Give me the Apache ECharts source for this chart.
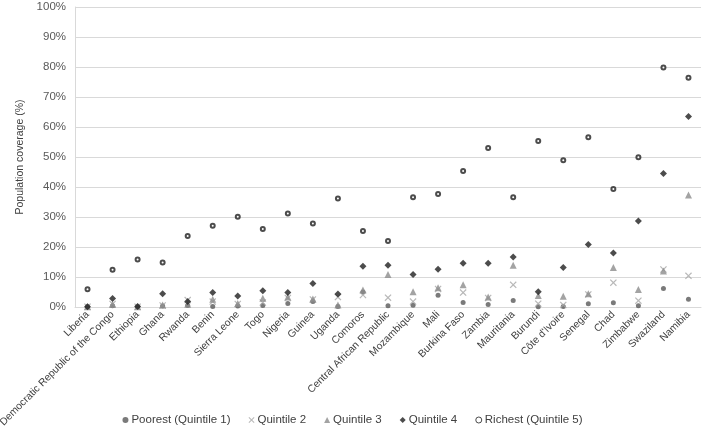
<!DOCTYPE html>
<html><head><meta charset="utf-8">
<script src="https://cdn.jsdelivr.net/npm/echarts@6/dist/echarts.min.js"></script>
<style>html,body{margin:0;padding:0;background:#fff}#c{width:705px;height:436px}</style>
</head><body><div id="c"></div>
<script>
const categories = ["Liberia","Democratic Republic of the Congo","Ethiopia","Ghana","Rwanda","Benin","Sierra Leone","Togo","Nigeria","Guinea","Uganda","Comoros","Central African Republic","Mozambique","Mali","Burkina Faso","Zambia","Mauritania","Burundi","Côte d'Ivoire","Senegal","Chad","Zimbabwe","Swaziland","Namibia"];
const poorest = [0.1,0.4,0.1,0.3,0.5,0.2,0.3,0.5,1.2,1.8,0.2,5.0,0.4,0.6,3.9,1.5,0.8,2.2,0.1,0.2,1.1,1.4,0.4,6.2,2.6];
const quintile2 = [0.1,1.0,0.1,0.5,2.3,1.8,1.0,1.5,3.0,2.5,3.3,4.0,3.1,1.8,6.0,4.8,3.0,7.4,1.1,0.7,4.2,8.1,2.1,12.5,10.4];
const quintile3 = [0.1,0.8,0.1,0.7,0.9,2.6,1.2,2.9,3.3,2.7,0.7,5.7,10.8,5.1,6.4,7.4,3.3,13.9,3.8,3.6,4.4,13.2,5.8,12.0,37.3];
const quintile4 = [0.1,2.8,0.2,4.4,1.8,4.8,3.7,5.4,4.8,7.8,4.3,13.6,13.9,10.8,12.6,14.6,14.6,16.7,5.1,13.2,20.8,18.0,28.7,44.5,63.5];
const richest = [5.9,12.4,15.8,14.8,23.7,27.1,30.1,26.0,31.2,27.8,36.2,25.3,22.0,36.6,37.7,45.3,53.0,36.6,55.3,48.9,56.6,39.3,49.9,79.8,76.4];
const yTicks = [0,10,20,30,40,50,60,70,80,90,100];

const xPath = 'path://M0,1.2L1.2,0L5,3.8L8.8,0L10,1.2L6.2,5L10,8.8L8.8,10L5,6.2L1.2,10L0,8.8L3.8,5Z';
const font = '"Liberation Sans", Arial, sans-serif';
const chart = echarts.init(document.getElementById('c'), null, {renderer:'canvas'});
chart.setOption({
  animation:false,
  backgroundColor:'#fff',
  textStyle:{fontFamily:font},
  grid:{left:75,right:4,top:7,bottom:129,containLabel:false,outerBoundsMode:'none'},
  legend:{
    bottom:5, left:'center', itemGap:18, itemWidth:6, itemHeight:6,
    textStyle:{color:'#404040',fontSize:11.5,fontFamily:font, padding:[0,0,0,-2]},
    data:[
      {name:'Poorest (Quintile 1)', icon:'circle'},
      {name:'Quintile 2', icon:xPath},
      {name:'Quintile 3', icon:'triangle'},
      {name:'Quintile 4', icon:'diamond'},
      {name:'Richest (Quintile 5)', icon:'circle', itemStyle:{color:'#ffffff', borderColor:'#1f1f1f', borderWidth:1}}
    ]
  },
  xAxis:{
    type:'category', data:categories, boundaryGap:true,
    axisLine:{lineStyle:{color:'#d9d9d9'}}, axisTick:{show:false},
    axisLabel:{rotate:45, interval:0, color:'#404040', fontSize:10.3, fontFamily:font, margin:6}
  },
  yAxis:{
    type:'value', min:0, max:100, interval:10,
    name:'Population coverage (%)', nameLocation:'middle', nameGap:48,
    nameTextStyle:{color:'#404040',fontSize:10.5,fontFamily:font},
    axisLine:{show:true,lineStyle:{color:'#d9d9d9'}}, axisTick:{show:false},
    axisLabel:{formatter:v=>v+'%', color:'#595959', fontSize:11.5, fontFamily:font, margin:9},
    splitLine:{lineStyle:{color:'#d9d9d9'}}
  },
  series:[
    {name:'Poorest (Quintile 1)', type:'scatter', data:poorest, symbol:'circle', symbolSize:5, itemStyle:{color:'#595959'}},
    {name:'Quintile 2', type:'scatter', data:quintile2, symbol:xPath, symbolSize:7, itemStyle:{color:'#a6a6a6'}},
    {name:'Quintile 3', type:'scatter', data:quintile3, symbol:'triangle', symbolSize:7, itemStyle:{color:'#8c8c8c'}},
    {name:'Quintile 4', type:'scatter', data:quintile4, symbol:'diamond', symbolSize:7, itemStyle:{color:'#1f1f1f'}},
    {name:'Richest (Quintile 5)', type:'scatter', data:richest, symbol:'emptyCircle', symbolSize:4, itemStyle:{color:'#1f1f1f', borderColor:'#1f1f1f', borderWidth:1.1}}
  ]
});
</script></body></html>
